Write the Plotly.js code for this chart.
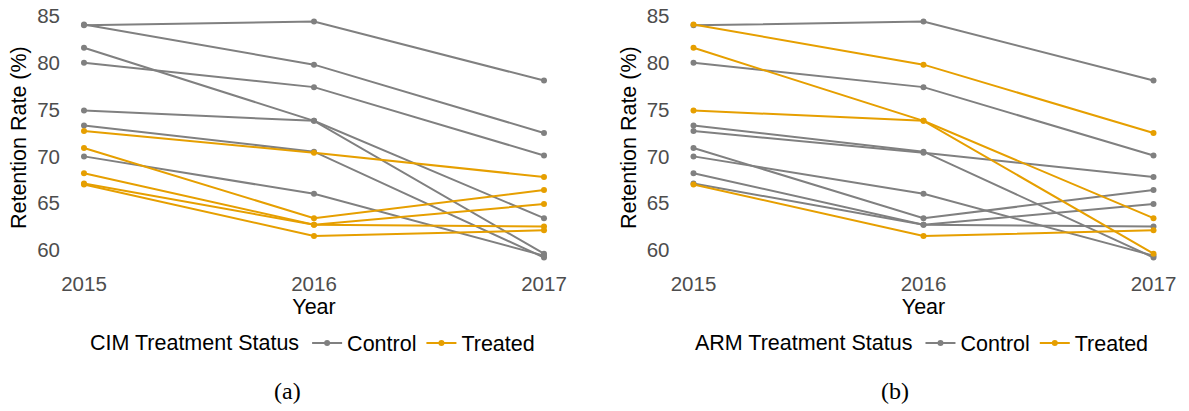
<!DOCTYPE html>
<html>
<head>
<meta charset="utf-8">
<script src="https://cdn.plot.ly/plotly-3.0.1.min.js"></script>
<style>
html, body { margin: 0; padding: 0; background: #ffffff; }
#chart { width: 1189px; height: 411px; }
</style>
</head>
<body>
<div id="chart"></div>
<script>
// ---- Data ----
const years = [2015, 2016, 2017];
const rate2015 = [84.0, 84.1, 81.6, 80.0, 74.9, 73.3, 70.0, 72.7, 70.9, 68.2, 67.1, 67.0];
const rate2016 = [84.4, 79.8, 73.8, 77.4, 73.8, 70.5, 66.0, 70.4, 63.4, 62.7, 62.7, 61.5];
const rate2017 = [78.1, 72.5, 59.6, 70.1, 63.4, 59.2, 59.4, 67.8, 66.4, 64.9, 62.5, 62.1];
// treatment status per unit (0 = Control, 1 = Treated)
const cimTreated = [0, 0, 0, 0, 0, 0, 0, 1, 1, 1, 1, 1];
const armTreated = [0, 1, 1, 0, 1, 0, 0, 0, 0, 0, 0, 1];
const groupNames = ["Control", "Treated"];
const panelTitles = ["CIM Treatment Status", "ARM Treatment Status"];
const captions = ["(a)", "(b)"];

// ---- Styles ----
const colors = ["#808080", "#E69F00"];
const tickColor = "#4D4D4D";
const font = "Liberation Sans, Arial, sans-serif";

function buildTraces(flags, xa, ya, legendId) {
  const traces = [];
  for (let g = 0; g < 2; g++) {
    const xs = [], ys = [];
    for (let i = 0; i < rate2015.length; i++) {
      if (flags[i] !== g) continue;
      const vals = [rate2015[i], rate2016[i], rate2017[i]];
      for (let k = 0; k < years.length; k++) { xs.push(years[k]); ys.push(vals[k]); }
      xs.push(null); ys.push(null);
    }
    traces.push({
      type: "scatter", mode: "lines+markers",
      x: xs, y: ys, xaxis: xa, yaxis: ya,
      name: groupNames[g], legend: legendId,
      connectgaps: false,
      line: { color: colors[g], width: 2 },
      marker: { color: colors[g], size: 6 },
      hoverinfo: "x+y"
    });
  }
  return traces;
}

const data = [
  ...buildTraces(cimTreated, "x", "y", "legend"),
  ...buildTraces(armTreated, "x2", "y2", "legend2")
];

const yDomain = [0.3599, 0.9702];
const xDomA = [0.05130, 0.47687];
const xDomB = [0.56392, 0.98949];

function xAxis(domain, anchor) {
  return {
    domain: domain, anchor: anchor, range: [2014.9, 2017.1],
    tickvals: years, ticktext: years.map(String),
    showgrid: false, zeroline: false, showline: false, ticks: "",
    ticklabelstandoff: 6,
    tickfont: { family: font, size: 20.5, color: tickColor },
    title: { text: "Year", font: { family: font, size: 21.5, color: "#000000" }, standoff: 0 },
    fixedrange: true
  };
}
function yAxis(anchor) {
  return {
    domain: yDomain, anchor: anchor, range: [58.6, 85.4],
    tickvals: [60, 65, 70, 75, 80, 85],
    showgrid: false, zeroline: false, showline: false, ticks: "",
    tickfont: { family: font, size: 20.5, color: tickColor },
    title: { text: "Retention Rate (%)", font: { family: font, size: 21.5, color: "#000000" }, standoff: 4 },
    fixedrange: true
  };
}

function legendCfg(title, xc) {
  return {
    title: { text: title, side: "left", font: { family: font, size: 21.5, color: "#000000" } },
    orientation: "h", x: xc, xanchor: "center", y: 0.1655, yanchor: "middle",
    font: { family: font, size: 21.5, color: "#000000" },
    itemwidth: 30, tracegroupgap: 0, bgcolor: "rgba(0,0,0,0)"
  };
}

const layout = {
  width: 1189, height: 411,
  margin: { l: 0, r: 0, t: 0, b: 0, pad: 0 },
  paper_bgcolor: "#ffffff", plot_bgcolor: "#ffffff",
  showlegend: true,
  xaxis: xAxis(xDomA, "y"),
  yaxis: yAxis("x"),
  xaxis2: xAxis(xDomB, "y2"),
  yaxis2: yAxis("x2"),
  legend: legendCfg(panelTitles[0], (xDomA[0] + xDomA[1]) / 2),
  legend2: legendCfg(panelTitles[1], (xDomB[0] + xDomB[1]) / 2),
  annotations: [
    { text: captions[0], xref: "paper", yref: "paper", x: 287 / 1189, y: 0.0487,
      xanchor: "center", yanchor: "middle", showarrow: false,
      font: { family: "Liberation Serif, serif", size: 24, color: "#000000" } },
    { text: captions[1], xref: "paper", yref: "paper", x: 895 / 1189, y: 0.0487,
      xanchor: "center", yanchor: "middle", showarrow: false,
      font: { family: "Liberation Serif, serif", size: 24, color: "#000000" } }
  ]
};

Plotly.newPlot("chart", data, layout, { displayModeBar: false, staticPlot: true });
</script>
</body>
</html>
